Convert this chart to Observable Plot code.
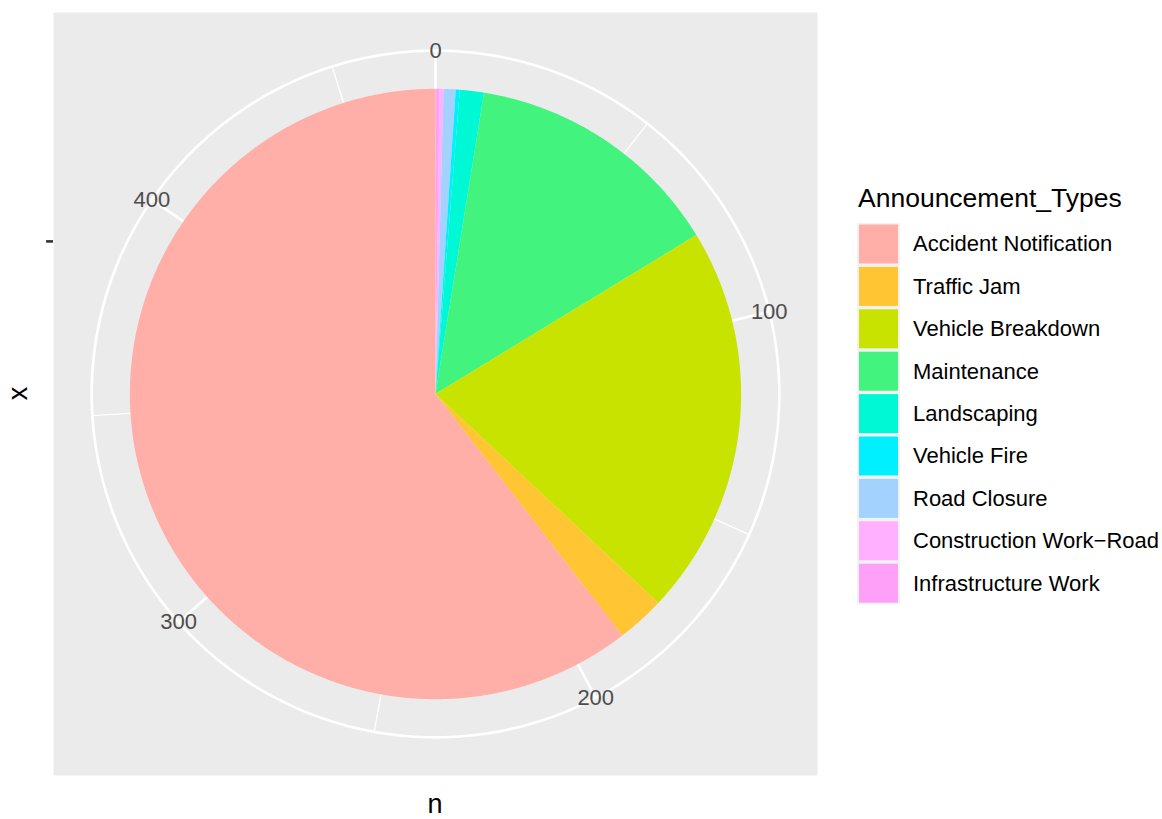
<!DOCTYPE html>
<html><head><meta charset="utf-8">
<script src="https://cdn.jsdelivr.net/npm/d3@7"></script>
<script src="https://cdn.jsdelivr.net/npm/@observablehq/plot@0.6"></script>
<style>
body{margin:0;background:#fff;}
#wrap{position:relative;width:1162px;height:819px;font-family:"Liberation Sans",Arial,Helvetica,sans-serif;}
#wrap svg{position:absolute;left:0;top:0;}
</style></head><body><div id="wrap"></div>
<script>
// ---- data ----
const types = ["Accident Notification","Traffic Jam","Vehicle Breakdown","Maintenance","Landscaping","Vehicle Fire","Road Closure","Construction Work\u2212Road","Infrastructure Work"];
const counts = [286, 12, 98, 65, 6, 1, 3, 1, 1];
const fills = ["#FFAEA8","#FFC533","#C8E300","#42F47E","#00F8D4","#00F0FF","#A3D2FF","#FFB0FF","#FFA0F8"];
const majorTicks = [0, 100, 200, 300, 400];
const minorTicks = [50, 150, 250, 350, 450];
const legendTitle = "Announcement_Types";
const rTitle = "x";
const thetaTitle = "n";

// ---- polar geometry (ggplot coord_polar: pie radius 0.4, outer ring 0.45) ----
const total = d3.sum(counts);
const theta = d3.scaleLinear([0, total], [0, 2 * Math.PI]);
const R_PIE = 0.4, R_OUT = 0.45, R_X = 0.2;
const px = (v, r) => r * Math.sin(theta(v));
const py = (v, r) => r * Math.cos(theta(v));

// stacking as ggplot does: last level at the start of the angle
const slices = [];
let acc = 0;
for (let i = types.length - 1; i >= 0; i--) {
  slices.push({type: types[i], start: acc, end: acc + counts[i]});
  acc += counts[i];
}
const polyPts = [];
for (const s of slices) {
  polyPts.push({type: s.type, x: 0, y: 0});
  const n = Math.max(4, Math.ceil((s.end - s.start) * 2));
  for (let k = 0; k <= n; k++) {
    const v = s.start + (s.end - s.start) * k / n;
    polyPts.push({type: s.type, x: px(v, R_PIE), y: py(v, R_PIE)});
  }
}
const ringPts = [];
for (const r of [R_X, R_OUT]) {
  for (let k = 0; k < 720; k++) {
    const v = total * k / 720;
    ringPts.push({r, x: px(v, r), y: py(v, r)});
  }
}

const FONT = '"Liberation Sans",Arial,Helvetica,sans-serif';
const plot = Plot.plot({
  width: 1162, height: 819,
  marginLeft: 53, marginRight: 345, marginTop: 12, marginBottom: 44,
  x: {domain: [-0.5, 0.5], axis: null},
  y: {domain: [-0.5, 0.5], axis: null},
  color: {type: "ordinal", domain: types, range: fills},
  style: {fontFamily: FONT, background: "transparent", overflow: "visible"},
  marks: [
    Plot.frame({fill: "#EBEBEB", stroke: "none"}),
    Plot.line(ringPts, {x: "x", y: "y", z: "r", stroke: "white", strokeWidth: 2.6, curve: "linear-closed"}),
    Plot.link(minorTicks, {x1: 0, y1: 0, x2: d => px(d, R_OUT), y2: d => py(d, R_OUT), stroke: "white", strokeWidth: 1.3}),
    Plot.link(majorTicks, {x1: 0, y1: 0, x2: d => px(d, R_OUT), y2: d => py(d, R_OUT), stroke: "white", strokeWidth: 2.6}),
    Plot.line(polyPts, {x: "x", y: "y", z: "type", fill: "type", stroke: "none", curve: "linear-closed"}),
    Plot.text(majorTicks, {x: d => px(d, R_OUT), y: d => py(d, R_OUT), text: d => String(d), fill: "#4D4D4D", fontSize: 22}),
    Plot.axisY({ticks: [R_X], tickFormat: () => "", tickSize: 6.9, strokeWidth: 2.6, stroke: "#333333", label: null})
  ]
});
const wrap = document.getElementById("wrap");
wrap.appendChild(plot);

// ---- titles and legend (ggplot-style) ----
const svg = d3.select(wrap).append("svg").attr("width", 1162).attr("height", 819)
  .style("font-family", FONT);
svg.append("text").attr("x", 435).attr("y", 813).attr("text-anchor", "middle")
  .attr("font-size", 27).attr("fill", "black").text(thetaTitle);
svg.append("text").attr("transform", "translate(27,393.5) rotate(-90)").attr("text-anchor", "middle")
  .attr("font-size", 27).attr("fill", "black").text(rTitle);

const LX = 857, LY = 222.8, ROW = 42.4;
svg.append("text").attr("x", 858).attr("y", 207).attr("font-size", 26.5).attr("fill", "black").text(legendTitle);
svg.append("rect").attr("x", LX).attr("y", LY).attr("width", 43).attr("height", ROW * types.length).attr("fill", "#F2F2F2");
const rows = svg.selectAll("g.key").data(types).join("g").attr("transform", (d, i) => `translate(0,${LY + i * ROW})`);
rows.append("rect").attr("x", LX + 2).attr("y", 1.7).attr("width", 39).attr("height", ROW - 3.4)
  .attr("fill", (d, i) => fills[i]);
rows.append("text").attr("x", 913).attr("y", ROW / 2 + 7.5).attr("font-size", 22).attr("fill", "black").text(d => d);
</script></body></html>
